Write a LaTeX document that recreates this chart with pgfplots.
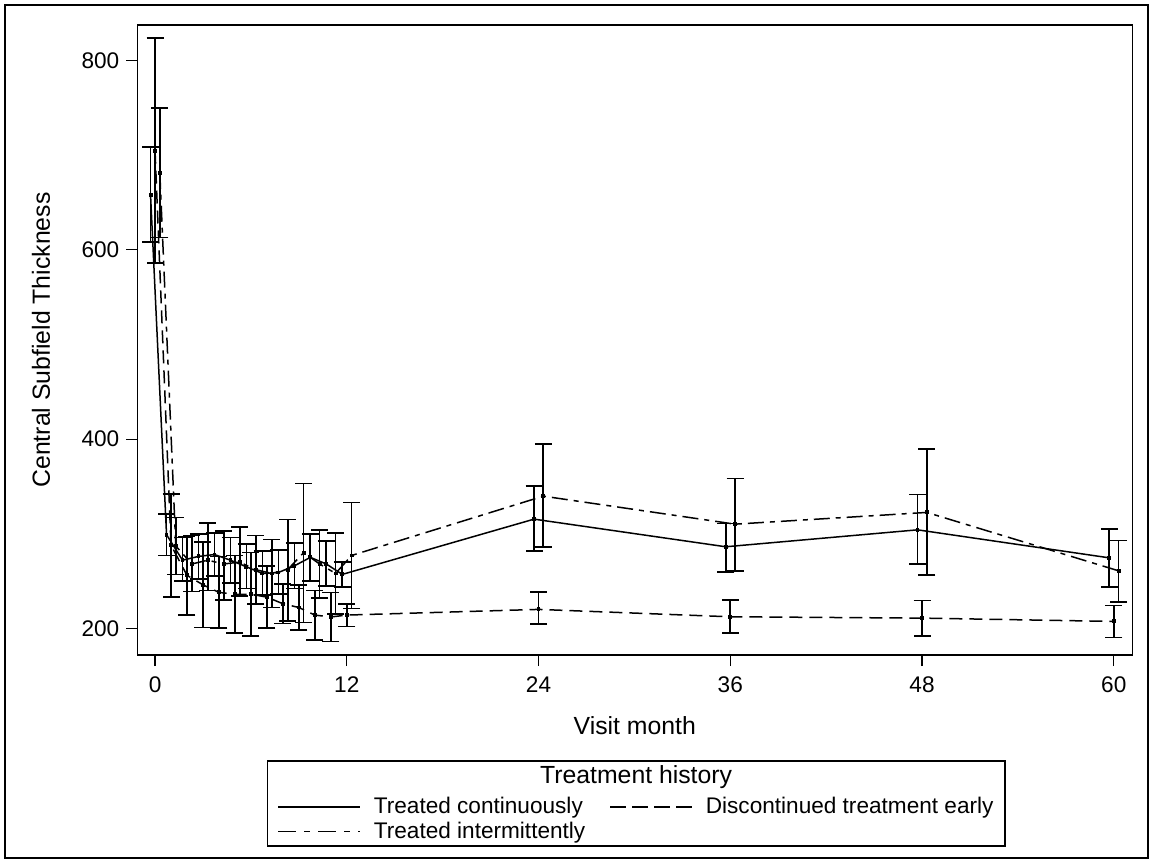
\documentclass[border=0pt]{standalone}
\usepackage{pgfplots}
\pgfplotsset{compat=1.18}
\usepackage{pgfplotstable}
\usepackage{fontspec}
\setmainfont{Liberation Sans}

\pgfplotstableread{
x y lo hi
-0.28 658 608 709
0.72 299 277 321
1.72 272 250 296
2.72 276 252 300
3.72 278 255 301
4.72 272 248 296
5.72 265 242 289
6.72 258 235 282
7.72 259 236 283
8.72 266 242 290
9.72 275 250 300
10.72 268 245 292
11.72 257 244 270
23.72 315.4 281.6 350.3
35.72 286.2 259.7 310.9
47.72 304.1 267.9 341.5
59.72 274.5 243.6 304.9
}\conttab

\pgfplotstableread{
x y lo hi
0 705 586 824
1 288 233 342
2 256 214 297
3 246 201 291
4 238 200 276
5 236 195 277
6 236 192 280
7 233 200 266
8 226 205 247
9 222 198 246
10 214 188 240
11 212 186 238
12 214 202 226
24 220 204.4 238.6
36 212.2 195.3 229.8
48 210.8 191.8 229.5
60 207.3 190.4 224.2
}\disctab

\pgfplotstableread{
x y lo hi
0.3 681.5 613 750
1.3 287 257 317
2.3 268 239 298
3.3 272 240 311
4.3 268 230 303
5.3 270 234 307
6.3 262 226 298
7.3 258 222 294
8.3 262 208 315
9.3 280 206 353
10.3 268 232 304
11.3 258 215 301
12.3 277 221 333
24.3 339.7 285.8 394.7
36.3 310.1 260.5 358.4
48.3 322.5 256.2 389.4
60.3 260.8 228 292.9
}\intertab

\begin{document}
\begin{tikzpicture}
\useasboundingbox (-68.65pt,-104pt) rectangle (507.85pt,327.5pt);
\draw[line width=0.7pt] (-66.15pt,-101.5pt) rectangle (505.35pt,325pt);
\begin{axis}[
  at={(0pt,0pt)}, anchor=south west,
  scale only axis, width=497.5pt, height=315pt,
  xmin=-1.11, xmax=61.16, ymin=171.8, ymax=837.7,
  xtick={0,12,24,36,48,60}, ytick={200,400,600,800},
  tick align=outside, xtick pos=left, ytick pos=left,
  major tick length=5.5pt,
  every tick/.style={black, line width=0.6pt},
  axis line style={line width=0.7pt},
  /pgf/number format/assume math mode=true,
  ticklabel style={font=\fontsize{11.3}{13}\selectfont},
  xticklabel style={yshift=-2pt},
  label style={font=\fontsize{12.4}{14}\selectfont},
  xlabel={Visit month}, ylabel={Central Subfield Thickness},
  xlabel style={at={(axis description cs:0.5,-0.1127)}, anchor=center},
  ylabel style={at={(axis description cs:-0.0968,0.5)}, anchor=center},
  clip=false,
  legend columns=2,
  legend cell align=left,
  legend style={draw=none, fill=none, at={(axis description cs:0.1404,-0.2191)}, anchor=north west,
    font=\fontsize{11.3}{13}\selectfont, inner sep=0pt, row sep=-1.5pt,
    /tikz/every even column/.append style={column sep=10pt}},
  legend image code/.code={\draw[#1] (0pt,0pt) -- (41pt,0pt); \path (45.5pt,0pt);},
  every axis plot/.append style={black, line width=0.75pt,
    mark=square*, mark size=0.6pt, mark options={solid},
    error bars/y dir=both, error bars/y explicit,
    error bars/error bar style={solid, line width=0.85pt},
    error bars/error mark options={rotate=90, solid, dash pattern=on 30pt off 0pt, line width=0.85pt, mark size=4.25pt}},
]
\addplot[forget plot, solid] table[x=x, y=y, y error plus expr=\thisrow{hi}-\thisrow{y}, y error minus expr=\thisrow{y}-\thisrow{lo}] {\conttab};
\addplot[forget plot, dash pattern=on 6.5pt off 3.5pt] table[x=x, y=y, y error plus expr=\thisrow{hi}-\thisrow{y}, y error minus expr=\thisrow{y}-\thisrow{lo}] {\disctab};
\addplot[forget plot, dash pattern=on 8pt off 3pt on 2.5pt off 3pt] table[x=x, y=y, y error plus expr=\thisrow{hi}-\thisrow{y}, y error minus expr=\thisrow{y}-\thisrow{lo}] {\intertab};
\addlegendimage{black, line width=0.75pt, solid}
\addlegendentry{Treated continuously}
\addlegendimage{black, line width=0.75pt, dash pattern=on 8pt off 3pt}
\addlegendentry{Discontinued treatment early}
\addlegendimage{black, line width=0.75pt, dash pattern=on 9pt off 4pt on 3pt off 4pt}
\addlegendentry{Treated intermittently}
\end{axis}
\draw[line width=0.7pt] (65.1pt,-53pt) rectangle (433.85pt,-95.5pt);
\node[font=\fontsize{12.4}{14}\selectfont, anchor=center] at (249.4pt,-61pt) {Treatment history};
\end{tikzpicture}
\end{document}
